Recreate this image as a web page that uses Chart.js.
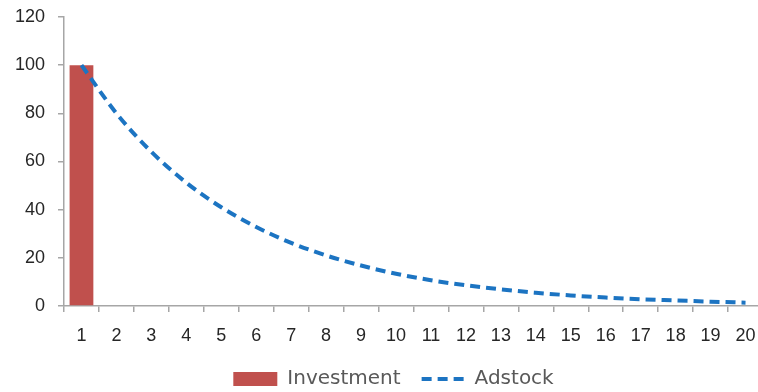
<!DOCTYPE html>
<html>
<head>
<meta charset="utf-8">
<script src="https://cdn.jsdelivr.net/npm/chart.js@4/dist/chart.umd.min.js"></script>
<style>
  html, body { margin: 0; padding: 0; background: #fff; overflow: hidden; }
  #wrap { position: absolute; left: 0; top: 0; width: 763px; height: 399px; }
</style>
</head>
<body>
<div id="wrap"><canvas id="chart"></canvas></div>
<script>
// Periods 1..20
const periods = ['1','2','3','4','5','6','7','8','9','10','11','12','13','14','15','16','17','18','19','20'];
// One-off spend in the first period
const investment = [100, 0, 0, 0, 0, 0, 0, 0, 0, 0, 0, 0, 0, 0, 0, 0, 0, 0, 0, 0];
// Carry-over effect of that spend
const adstock = [100, 80, 64, 51.2, 41, 32.8, 26.2, 21, 16.8, 13.4, 10.7, 8.6, 6.9, 5.5, 4.4, 3.5, 2.8, 2.3, 1.8, 1.4];
// Value axis ticks
const yMin = 0, yMax = 120, yStep = 20;

const barColor = '#C0504D';
const lineColor = '#1C74C2';
const lineDash = [10, 6];
const axisGray = '#a6a6a6';
const tickFont = { family: 'Liberation Sans, Arial, sans-serif', size: 18 };

// Small dashed swatch used as the legend symbol of the line series
function dashedSwatch() {
  const c = document.createElement('canvas');
  c.width = 44; c.height = 6;
  const g = c.getContext('2d');
  g.strokeStyle = lineColor;
  g.lineWidth = 4;
  g.setLineDash(lineDash);
  g.beginPath();
  g.moveTo(1, 3);
  g.lineTo(43, 3);
  g.stroke();
  return c;
}

// Shifts the legend row sideways after layout
const legendShift = {
  id: 'legendShift',
  afterLayout(chart, args, opts) {
    const lg = chart.legend;
    if (!lg) return;
    lg.left += opts.dx;
    lg.right += opts.dx;
  }
};

new Chart(document.getElementById('chart'), {
  data: {
    labels: periods,
    datasets: [
      {
        type: 'bar',
        label: 'Investment',
        data: investment,
        backgroundColor: barColor,
        borderWidth: 0,
        barPercentage: 0.68,
        categoryPercentage: 1,
        pointStyle: 'rect',
        order: 2
      },
      {
        type: 'line',
        label: 'Adstock',
        data: adstock,
        borderColor: lineColor,
        backgroundColor: lineColor,
        borderWidth: 4,
        borderDash: lineDash,
        borderCapStyle: 'butt',
        pointRadius: 0,
        pointStyle: dashedSwatch(),
        tension: 0.4,
        cubicInterpolationMode: 'monotone',
        fill: false,
        order: 1
      }
    ]
  },
  plugins: [legendShift],
  options: {
    responsive: true,
    maintainAspectRatio: false,
    animation: false,
    layout: { padding: { left: 0, right: 0, top: 17, bottom: 0 } },
    plugins: {
      tooltip: { enabled: false },
      legendShift: { dx: 12 },
      legend: {
        position: 'bottom',
        align: 'center',
        labels: {
          usePointStyle: true,
          pointStyleWidth: 44,
          boxHeight: 14,
          padding: 20,
          color: '#595959',
          font: { family: 'DejaVu Sans, sans-serif', size: 20 },
          sort: (a, b) => a.datasetIndex - b.datasetIndex
        }
      }
    },
    scales: {
      x: {
        offset: true,
        afterFit: (scale) => {
          scale.height = 43;
          scale.paddingLeft = 0;
          scale.paddingRight = 0;
        },
        grid: {
          offset: true,
          drawOnChartArea: false,
          drawTicks: true,
          tickLength: 6,
          color: axisGray,
          lineWidth: 1.5
        },
        border: { display: true, color: axisGray, width: 1.5 },
        ticks: {
          color: '#262626',
          font: tickFont,
          padding: 13,
          maxRotation: 0,
          autoSkip: false
        }
      },
      y: {
        min: yMin,
        max: yMax,
        afterFit: (scale) => {
          scale.width = 64;
          scale.paddingTop = 0;
          scale.paddingBottom = 0;
        },
        grid: {
          drawOnChartArea: false,
          drawTicks: true,
          tickLength: 6,
          color: axisGray,
          lineWidth: 1.5
        },
        border: { display: true, color: axisGray, width: 1.5 },
        ticks: {
          stepSize: yStep,
          color: '#262626',
          font: tickFont,
          padding: 13
        }
      }
    }
  }
});
</script>
</body>
</html>
